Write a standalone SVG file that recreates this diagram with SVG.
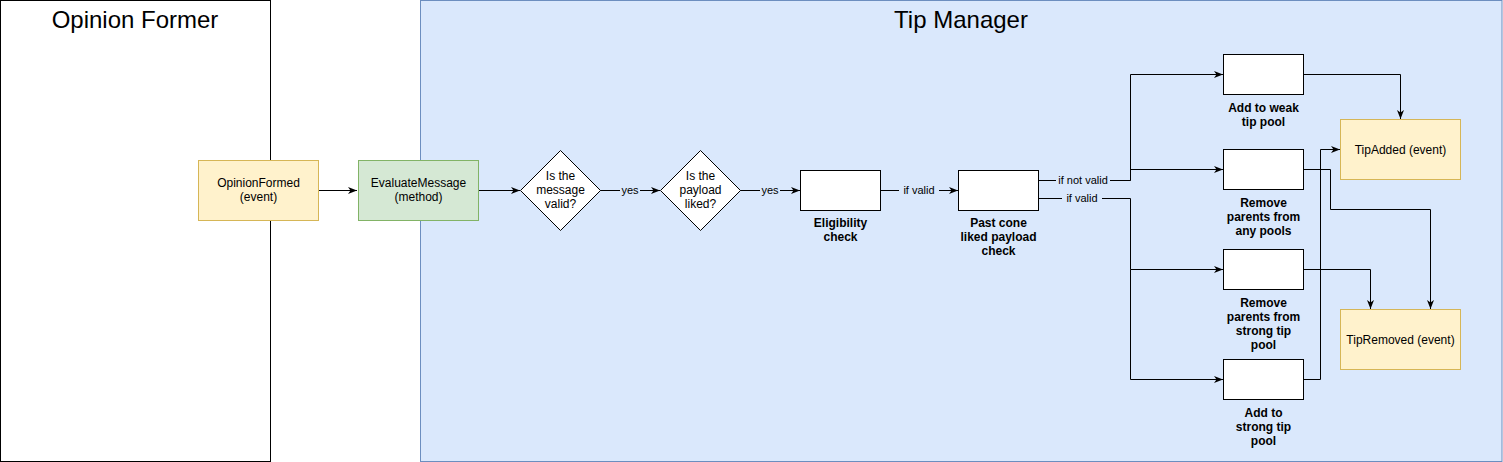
<svg xmlns="http://www.w3.org/2000/svg" width="1503" height="462" viewBox="0 0 1503 462">
<style>
text{font-family:"Liberation Sans",Arial,sans-serif;fill:#000;text-anchor:middle}
.t{font-size:24px}
.n{font-size:12px}
.b{font-size:12px;font-weight:bold}
.e{font-size:11px}
.c{fill:none;stroke:#000;stroke-width:1}
.box{fill:#fff;stroke:#000;stroke-width:1}
.ev{fill:#fff2cc;stroke:#d6b656;stroke-width:1}
.lb{fill:#dae8fc}
</style>
<defs>
<marker id="a" markerWidth="10" markerHeight="8" refX="9" refY="4" orient="auto" markerUnits="userSpaceOnUse">
<path d="M0,0.5 L9,4 L0,7.5 L2.5,4 Z" fill="#000"/>
</marker>
</defs>
<g id="opinion-former">
<rect x="0.5" y="0.5" width="270" height="461" fill="#fff" stroke="#000"/>
<text class="t" x="135" y="28">Opinion Former</text>
</g>
<g id="tip-manager">
<rect x="420.5" y="0.5" width="1081.5" height="461" fill="#dae8fc" stroke="#6c8ebf"/>
<text class="t" x="961" y="28">Tip Manager</text>
</g>
<g id="connectors">
<path class="c" d="M318,190.5 H357" marker-end="url(#a)"/>
<path class="c" d="M478,190.5 H520" marker-end="url(#a)"/>
<path class="c" d="M600,190.5 H660" marker-end="url(#a)"/>
<path class="c" d="M740,190.5 H800" marker-end="url(#a)"/>
<path class="c" d="M880,190.5 H958" marker-end="url(#a)"/>
<path class="c" d="M1038,180.5 H1130.5 V74.5 H1223" marker-end="url(#a)"/>
<path class="c" d="M1130.5,180.5 V169.5 H1223" marker-end="url(#a)"/>
<path class="c" d="M1038,198.5 H1130.5 V269.5 H1223" marker-end="url(#a)"/>
<path class="c" d="M1130.5,269.5 V379.5 H1223" marker-end="url(#a)"/>
<path class="c" d="M1303,74.5 H1400.5 V119" marker-end="url(#a)"/>
<path class="c" d="M1303,169.5 H1330.5 V209.5 H1430.5 V309" marker-end="url(#a)"/>
<path class="c" d="M1303,269.5 H1370.5 V309" marker-end="url(#a)"/>
<path class="c" d="M1303,379.5 H1320.5 V149.5 H1340" marker-end="url(#a)"/>
<rect class="lb" x="620" y="184" width="20" height="13"/>
<text class="e" x="630" y="194">yes</text>
<rect class="lb" x="760" y="184" width="20" height="13"/>
<text class="e" x="770" y="194">yes</text>
<rect class="lb" x="899" y="184" width="40" height="13"/>
<text class="e" x="919" y="194">if valid</text>
<rect class="lb" x="1056" y="174" width="54" height="13"/>
<text class="e" x="1083" y="184">if not valid</text>
<rect class="lb" x="1062" y="192" width="40" height="13"/>
<text class="e" x="1082" y="202">if valid</text>
</g>
<g id="opinion-formed">
<rect class="ev" x="198.5" y="160.5" width="120" height="60"/>
<text class="n" x="258.5" y="187">OpinionFormed</text>
<text class="n" x="258.5" y="201">(event)</text>
</g>
<g id="evaluate-message">
<rect x="358.5" y="160.5" width="120" height="60" fill="#d5e8d4" stroke="#82b366"/>
<text class="n" x="418.5" y="187">EvaluateMessage</text>
<text class="n" x="418.5" y="201">(method)</text>
</g>
<g id="is-message-valid">
<path class="box" d="M560.5,150.5 L600.5,190.5 L560.5,230.5 L520.5,190.5 Z"/>
<text class="n" x="560.5" y="180">Is the</text>
<text class="n" x="560.5" y="194">message</text>
<text class="n" x="560.5" y="208">valid?</text>
</g>
<g id="is-payload-liked">
<path class="box" d="M700.5,150.5 L740.5,190.5 L700.5,230.5 L660.5,190.5 Z"/>
<text class="n" x="700.5" y="180">Is the</text>
<text class="n" x="700.5" y="194">payload</text>
<text class="n" x="700.5" y="208">liked?</text>
</g>
<g id="eligibility-check">
<rect class="box" x="800.5" y="170.5" width="80" height="40"/>
<text class="b" x="840.5" y="227">Eligibility</text>
<text class="b" x="840.5" y="241">check</text>
</g>
<g id="past-cone-check">
<rect class="box" x="958.5" y="170.5" width="80" height="40"/>
<text class="b" x="998.5" y="227">Past cone</text>
<text class="b" x="998.5" y="241">liked payload</text>
<text class="b" x="998.5" y="255">check</text>
</g>
<g id="add-weak">
<rect class="box" x="1223.5" y="54.5" width="80" height="40"/>
<text class="b" x="1263.5" y="112">Add to weak</text>
<text class="b" x="1263.5" y="126">tip pool</text>
</g>
<g id="remove-any">
<rect class="box" x="1223.5" y="149.5" width="80" height="40"/>
<text class="b" x="1263.5" y="207">Remove</text>
<text class="b" x="1263.5" y="221">parents from</text>
<text class="b" x="1263.5" y="235">any pools</text>
</g>
<g id="remove-strong">
<rect class="box" x="1223.5" y="249.5" width="80" height="40"/>
<text class="b" x="1263.5" y="307">Remove</text>
<text class="b" x="1263.5" y="321">parents from</text>
<text class="b" x="1263.5" y="335">strong tip</text>
<text class="b" x="1263.5" y="349">pool</text>
</g>
<g id="add-strong">
<rect class="box" x="1223.5" y="359.5" width="80" height="40"/>
<text class="b" x="1263.5" y="417">Add to</text>
<text class="b" x="1263.5" y="431">strong tip</text>
<text class="b" x="1263.5" y="445">pool</text>
</g>
<g id="tip-added">
<rect class="ev" x="1340.5" y="119.5" width="120" height="60"/>
<text class="n" x="1400.5" y="154">TipAdded (event)</text>
</g>
<g id="tip-removed">
<rect class="ev" x="1340.5" y="309.5" width="120" height="60"/>
<text class="n" x="1400.5" y="344">TipRemoved (event)</text>
</g>
</svg>
